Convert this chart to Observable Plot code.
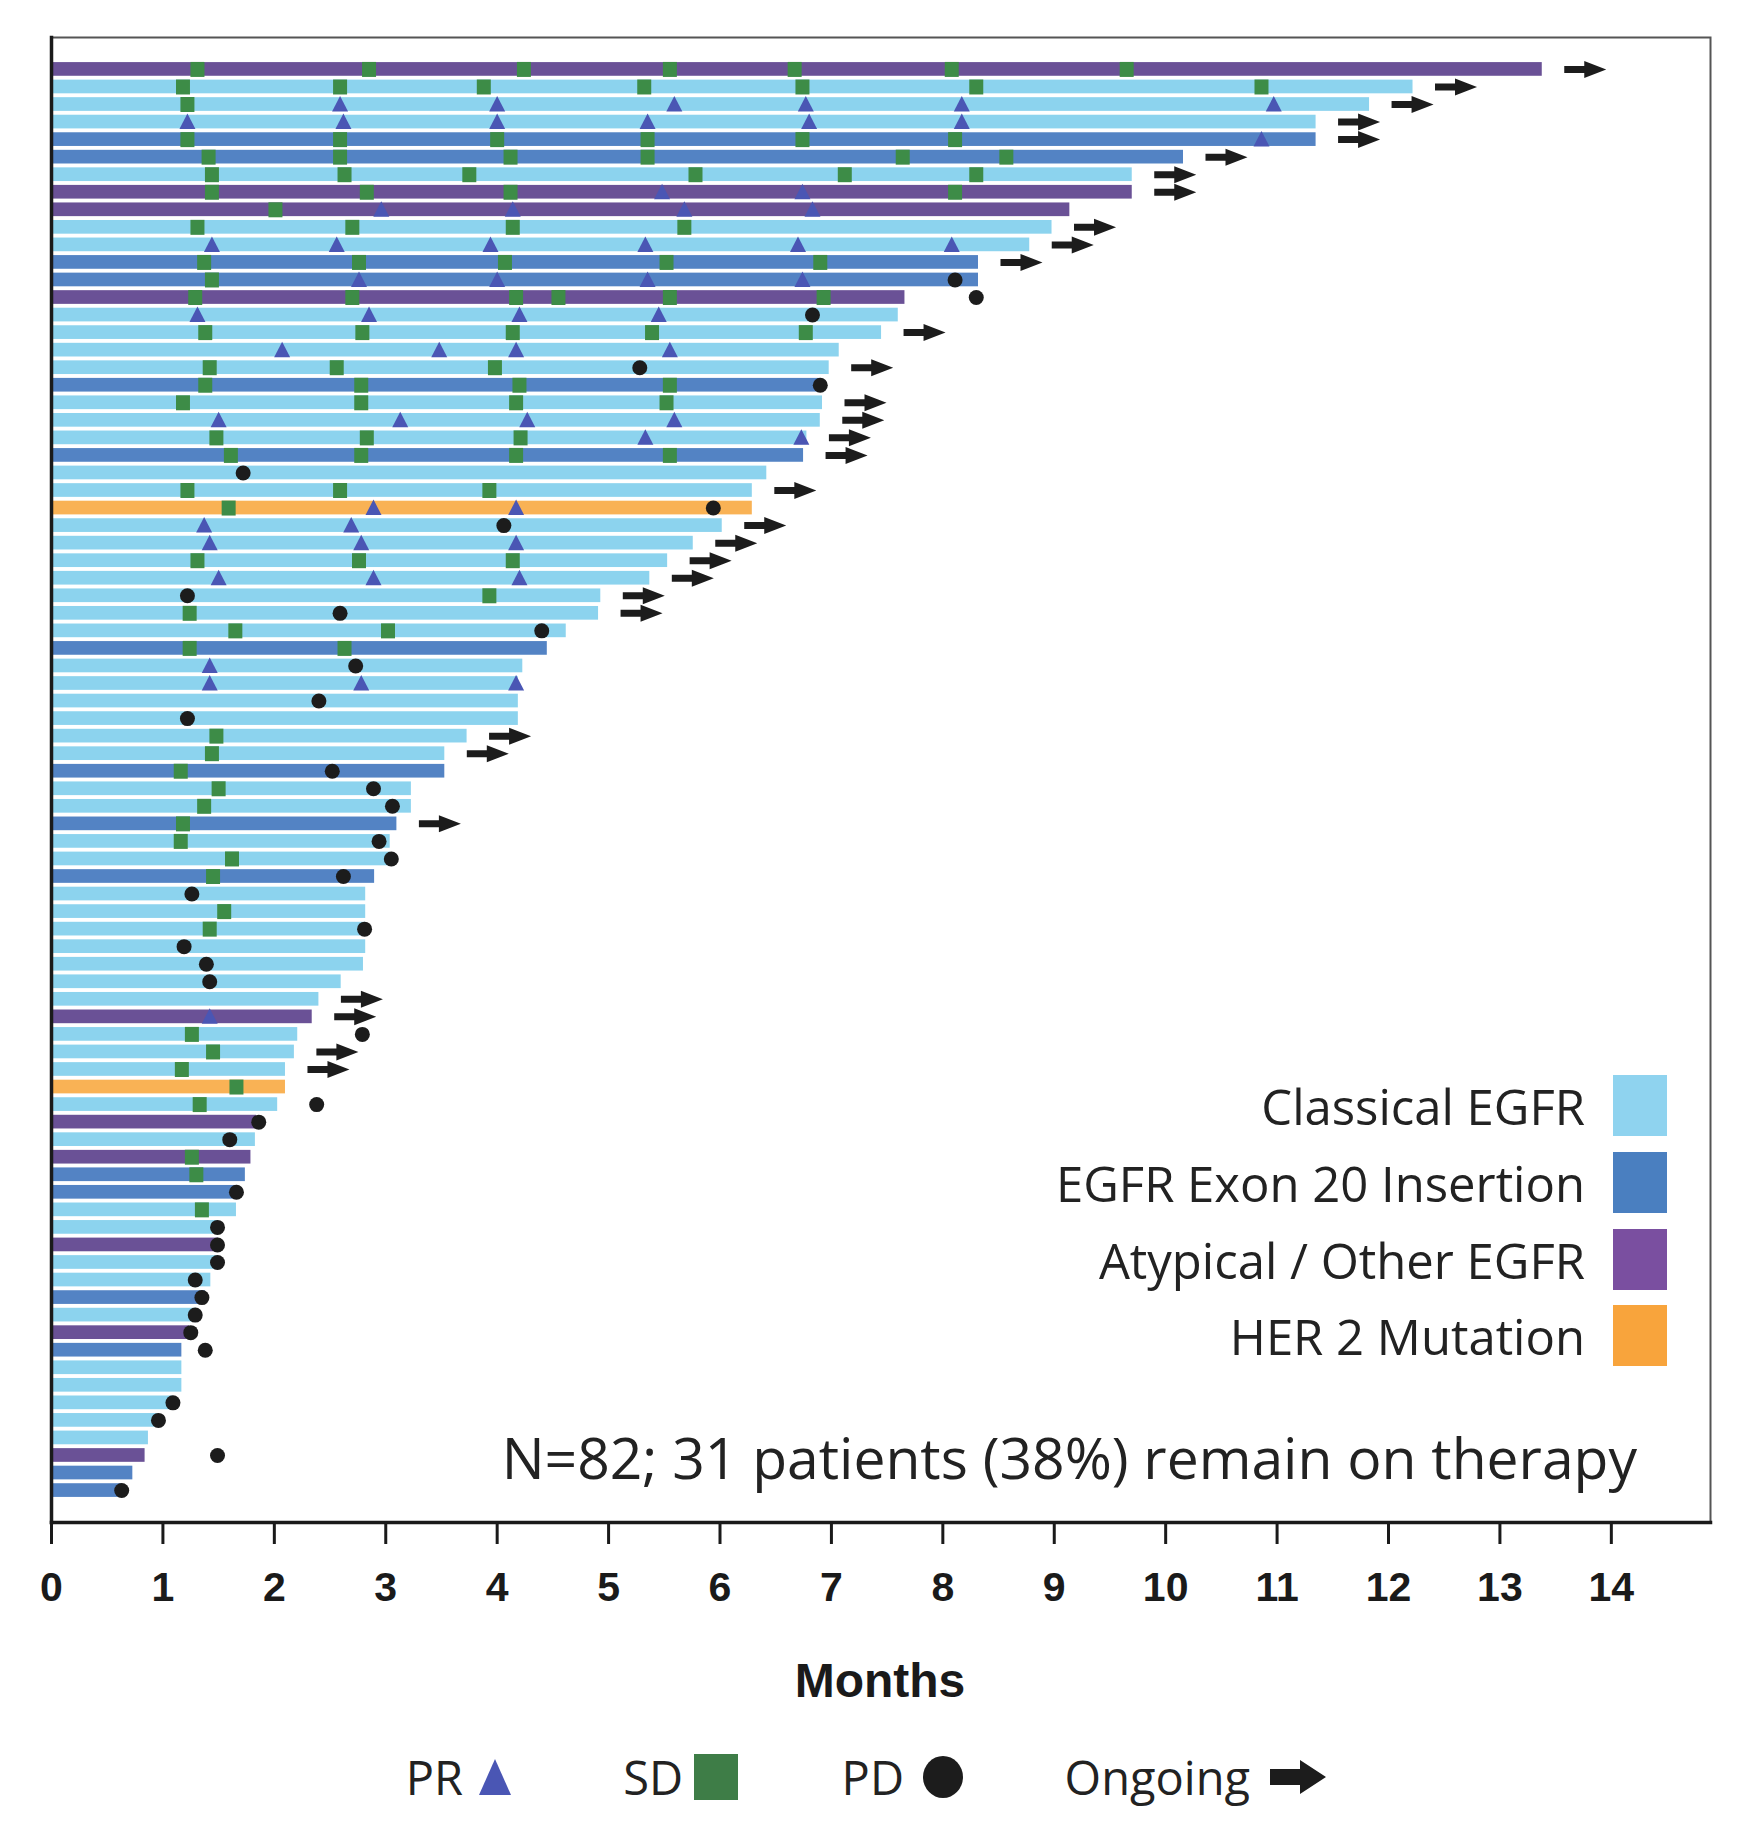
<!DOCTYPE html>
<html>
<head>
<meta charset="utf-8">
<script src="https://cdn.jsdelivr.net/npm/d3@7"></script>
<script src="https://cdn.jsdelivr.net/npm/@observablehq/plot@0.6"></script>
<style>
  body { margin:0; background:#fff; }
  #wrap { position:relative; width:1749px; height:1839px; overflow:hidden; font-family:"Open Sans", "Noto Sans", sans-serif; color:#222; }
  #chart { position:absolute; left:0; top:0; }
  #chart g[aria-label="x-axis tick label"] text { font-weight:bold; font-family:"Liberation Sans", Arial, sans-serif; }
  .lg { position:absolute; font-size:49px; line-height:1; white-space:nowrap; transform:translateY(-50%); }
  .sw { position:absolute; width:54px; height:61px; }
  .bl { position:absolute; font-size:47px; line-height:1; white-space:nowrap; transform:translateY(-50%); }
</style>
</head>
<body>
<div id="wrap">
  <div id="chart"></div>
</div>
<script>
// ---------- data ----------
const categories = ["Classical EGFR", "EGFR Exon 20 Insertion", "Atypical / Other EGFR", "HER 2 Mutation"];
const categoryColors = ["#8cd3ee", "#5383c4", "#6a5196", "#f9b255"];
const legendColors = ["#8fd3ef", "#4a7fc0", "#7a4fa0", "#f8a43c"];
const typeCode = { C: "Classical EGFR", X: "EGFR Exon 20 Insertion", A: "Atypical / Other EGFR", H: "HER 2 Mutation" };

// one entry per patient, top to bottom
const patientType = [
  "A","C","C","C","X","X","C","A","A","C",
  "C","X","X","A","C","C","C","C","X","C",
  "C","C","X","C","C","H","C","C","C","C",
  "C","C","C","X","C","C","C","C","C","C",
  "X","C","C","X","C","C","X","C","C","C",
  "C","C","C","C","A","C","C","C","H","C",
  "A","C","A","X","X","C","C","A","C","C",
  "X","C","A","X","C","C","C","C","C","A",
  "X","X"
];
const durationMonths = [
  13.38,12.22,11.83,11.35,11.35,10.16,9.70,9.70,9.14,8.98,
  8.78,8.32,8.32,7.66,7.60,7.45,7.07,6.98,6.90,6.92,
  6.90,6.78,6.75,6.42,6.29,6.29,6.02,5.76,5.53,5.37,
  4.93,4.91,4.62,4.45,4.23,4.19,4.19,4.19,3.73,3.53,
  3.53,3.23,3.23,3.10,3.04,3.04,2.90,2.82,2.82,2.82,
  2.82,2.80,2.60,2.40,2.34,2.21,2.18,2.10,2.10,2.03,
  1.84,1.83,1.79,1.74,1.68,1.66,1.50,1.50,1.50,1.43,
  1.38,1.30,1.24,1.17,1.17,1.17,1.09,0.96,0.87,0.84,
  0.73,0.63
];
const ongoing = [
  1,1,1,1,1,1,1,1,0,1,
  1,1,0,0,0,1,0,1,0,1,
  1,1,1,0,1,0,1,1,1,1,
  1,1,0,0,0,0,0,0,1,1,
  0,0,0,1,0,0,0,0,0,0,
  0,0,0,1,1,0,1,1,0,0,
  0,0,0,0,0,0,0,0,0,0,
  0,0,0,0,0,0,0,0,0,0,
  0,0
];
// partial response assessments (months)
const prMonths = [
  [],[],[2.59,4.0,5.59,6.77,8.17,10.97],[1.22,2.62,4.0,5.35,6.8,8.17],[10.86],[],[],[5.48,6.74],[2.96,4.14,5.68,6.83],[],
  [1.44,2.56,3.94,5.33,6.7,8.08],[],[2.76,4.0,5.35,6.74],[],[1.31,2.85,4.2,5.45],[],[2.07,3.48,4.17,5.55],[],[],[],
  [1.5,3.13,4.27,5.59],[5.33,6.73],[],[],[],[2.89,4.17],[1.37,2.69],[1.42,2.78,4.17],[],[1.5,2.89,4.2],
  [],[],[],[],[1.42],[1.42,2.78,4.17],[],[],[],[],
  [],[],[],[],[],[],[],[],[],[],
  [],[],[],[],[1.42],[],[],[],[],[],
  [],[],[],[],[],[],[],[],[],[],
  [],[],[],[],[],[],[],[],[],[],
  [],[]
];
// stable disease assessments (months)
const sdMonths = [
  [1.31,2.85,4.24,5.55,6.67,8.08,9.65],[1.18,2.59,3.88,5.32,6.74,8.3,10.86],[1.22],[],[1.22,2.59,4.0,5.35,6.74,8.11],[1.41,2.59,4.12,5.35,7.64,8.57],[1.44,2.63,3.75,5.78,7.12,8.3],[1.44,2.83,4.12,8.11],[2.01],[1.31,2.7,4.14,5.68],
  [],[1.37,2.76,4.07,5.52,6.9],[1.44],[1.29,2.7,4.17,4.55,5.55,6.93],[],[1.38,2.79,4.14,5.39,6.77],[],[1.42,2.56,3.98],[1.38,2.78,4.2,5.55],[1.18,2.78,4.17,5.52],
  [],[1.48,2.83,4.21],[1.61,2.78,4.17,5.55],[],[1.22,2.59,3.93],[1.59],[],[],[1.31,2.76,4.14],[],
  [3.93],[1.24],[1.65,3.02],[1.24,2.63],[],[],[],[],[1.48],[1.44],
  [1.16],[1.5],[1.37],[1.18],[1.16],[1.62],[1.45],[],[1.55],[1.42],
  [],[],[],[],[],[1.26],[1.45],[1.17],[1.66],[1.33],
  [],[],[1.26],[1.3],[],[1.35],[],[],[],[],
  [],[],[],[],[],[],[],[],[],[],
  [],[]
];
// progressive disease (months), null = none
const pdMonth = [
  null,null,null,null,null,null,null,null,null,null,
  null,null,8.11,8.3,6.83,null,null,5.28,6.9,null,
  null,null,null,1.72,null,5.94,4.06,null,null,null,
  1.22,2.59,4.4,null,2.73,null,2.4,1.22,null,null,
  2.52,2.89,3.06,null,2.94,3.05,2.62,1.26,null,2.81,
  1.19,1.39,1.42,null,null,2.79,null,null,null,2.38,
  1.86,1.6,null,null,1.66,null,1.49,1.49,1.49,1.29,
  1.35,1.29,1.25,1.38,null,null,1.09,0.96,null,1.49,
  null,0.63
];
const monthTicks = [0,1,2,3,4,5,6,7,8,9,10,11,12,13,14];

// ---------- tables built from the arrays ----------
const ids = patientType.map((_, i) => i);
const patients = ids.map(i => ({ id: i, cat: typeCode[patientType[i]], dur: durationMonths[i], on: ongoing[i] === 1 }));
const prEvents = ids.flatMap(i => prMonths[i].map(m => ({ id: i, m })));
const sdEvents = ids.flatMap(i => sdMonths[i].map(m => ({ id: i, m })));
const pdEvents = ids.filter(i => pdMonth[i] != null).map(i => ({ id: i, m: pdMonth[i] }));
const ongoingRows = patients.filter(p => p.on);

// ---------- custom marker shapes ----------
const triSym = { draw(c) { c.moveTo(0, -8.5); c.lineTo(8, 7); c.lineTo(-8, 7); c.closePath(); } };
const sqSym = { draw(c) { c.rect(-7, -7.5, 14, 15); } };
const arrowSym = { draw(c) {
  c.moveTo(-21, -3.5); c.lineTo(-1, -3.5); c.lineTo(-1, -8.5); c.lineTo(21, 0);
  c.lineTo(-1, 8.5); c.lineTo(-1, 3.5); c.lineTo(-21, 3.5); c.closePath();
} };

const H = 1630;
const chart = Plot.plot({
  width: 1749,
  height: H,
  marginLeft: 51,
  marginRight: 39,
  marginTop: 37,
  marginBottom: H - 1522,
  style: { background: "white", fontFamily: "Liberation Sans, Arial, sans-serif", color: "#1a1a1a" },
  x: { domain: [0, 14.89] },
  y: { domain: ids, paddingInner: 0.22, paddingOuter: 1.43, axis: null },
  color: { domain: categories, range: categoryColors },
  marks: [
    Plot.barX(patients, { x: "dur", y: "id", fill: "cat" }),
    Plot.dot(sdEvents, { x: "m", y: "id", symbol: sqSym, fill: "#3d8c47", stroke: null }),
    Plot.dot(prEvents, { x: "m", y: "id", symbol: triSym, fill: "#4a56b4", stroke: null }),
    Plot.dot(pdEvents, { x: "m", y: "id", r: 7.5, fill: "#1c1c1c", stroke: null }),
    Plot.dot(ongoingRows, { x: "dur", y: "id", dx: 43, symbol: arrowSym, fill: "#1c1c1c", stroke: null }),
    Plot.frame({ stroke: "#555", strokeWidth: 2 }),
    Plot.frame({ anchor: "left", stroke: "#1a1a1a", strokeWidth: 3.5 }),
    Plot.frame({ anchor: "bottom", stroke: "#1a1a1a", strokeWidth: 3.5 }),
    Plot.axisX({ ticks: monthTicks, tickFormat: d => String(d), tickSize: 22, tickPadding: 27, fontSize: 41, strokeWidth: 3, stroke: "#1a1a1a", fill: "#1a1a1a", label: null })
  ]
});
const wrap = document.getElementById("wrap");
document.getElementById("chart").appendChild(chart);

// ---------- category legend (inside plot area) ----------
const legendY = [1106, 1183, 1260, 1336];
categories.forEach((c, i) => {
  const t = document.createElement("div");
  t.className = "lg";
  t.textContent = c;
  t.style.right = (1749 - 1585) + "px";
  t.style.top = legendY[i] + "px";
  wrap.appendChild(t);
  const s = document.createElement("div");
  s.className = "sw";
  s.style.left = "1613px";
  s.style.top = (legendY[i] - 31) + "px";
  s.style.background = legendColors[i];
  wrap.appendChild(s);
});
const note = document.createElement("div");
note.className = "lg";
note.style.fontSize = "57px";
note.style.right = (1749 - 1637) + "px";
note.style.top = "1457px";
note.textContent = "N=82; 31 patients (38%) remain on therapy";
wrap.appendChild(note);

// axis title
const xt = document.createElement("div");
xt.style.cssText = "position:absolute;left:880px;top:1680px;transform:translate(-50%,-50%);font:bold 48px 'Liberation Sans',Arial,sans-serif;color:#1a1a1a;white-space:nowrap;";
xt.textContent = "Months";
wrap.appendChild(xt);

// ---------- marker legend below ----------
const markerLegend = [
  { label: "PR", textRight: 463, svg: '<svg width="34" height="38" viewBox="0 0 34 38"><path d="M17 1 L33 37 L1 37 Z" fill="#4a56b4"/></svg>', left: 478 },
  { label: "SD", textRight: 683, svg: '<svg width="44" height="46"><rect x="0" y="0" width="44" height="46" fill="#3e7d47"/></svg>', left: 694 },
  { label: "PD", textRight: 904, svg: '<svg width="42" height="44"><ellipse cx="21" cy="22" rx="20" ry="21" fill="#1c1c1c"/></svg>', left: 922 },
  { label: "Ongoing", textRight: 1250, svg: '<svg width="56" height="36" viewBox="0 0 56 36"><path d="M0 10 L30 10 L30 1 L56 18 L30 35 L30 26 L0 26 Z" fill="#1c1c1c"/></svg>', left: 1270 }
];
markerLegend.forEach(m => {
  const t = document.createElement("div");
  t.className = "bl";
  t.textContent = m.label;
  t.style.right = (1749 - m.textRight) + "px";
  t.style.top = "1777px";
  wrap.appendChild(t);
  const s = document.createElement("div");
  s.style.cssText = "position:absolute;top:1777px;transform:translateY(-50%);line-height:0;";
  s.style.left = m.left + "px";
  s.innerHTML = m.svg;
  wrap.appendChild(s);
});
</script>
</body>
</html>
